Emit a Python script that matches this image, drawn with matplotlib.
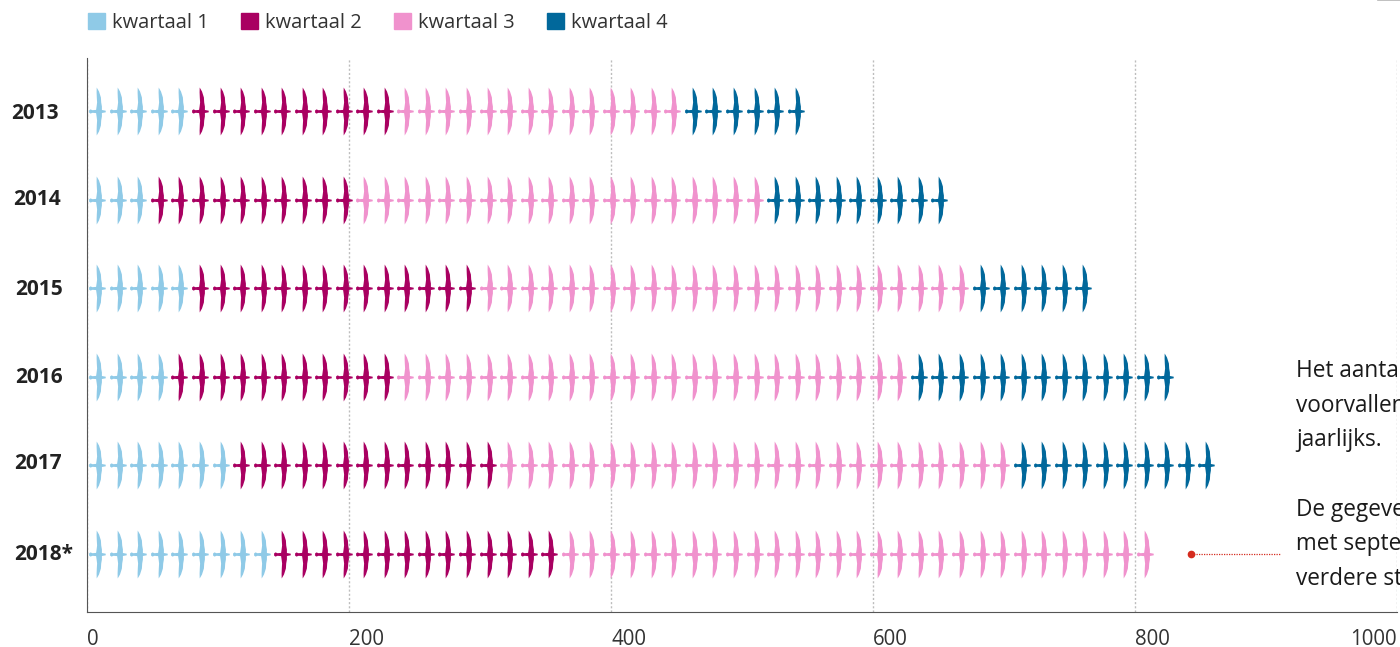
import numpy as np
import matplotlib.pyplot as plt
from matplotlib.patches import Patch
from matplotlib.path import Path

plt.rcParams['font.family'] = ['Open Sans', 'DejaVu Sans']

years = ['2013', '2014', '2015', '2016', '2017', '2018*']
# number of birds per quarter, one row per year
kwartaal_1 = [5, 3, 5, 4, 7, 9]
kwartaal_2 = [10, 10, 14, 11, 13, 14]
kwartaal_3 = [14, 20, 24, 25, 25, 29]
kwartaal_4 = [6, 9, 6, 13, 10, 0]
quarter_names = ['kwartaal 1', 'kwartaal 2', 'kwartaal 3', 'kwartaal 4']
bird_value = 15.68  # one bird on the x axis

xticks = [0, 200, 400, 600, 800, 1000]
note_lines = ['Het aantal', 'voorvallen', 'jaarlijks.', 'De gegevens', 'met september', 'verdere st']

colors = ['#8FCAE7', '#A90061', '#F092CD', '#01689B']
W, H = 1400, 647

# bird outline, wing span up and down, head on the left
right_side = [(-0.8, 24), (1.5, 20), (3.4, 14), (3.7, 9), (4.4, 5), (4.4, 1.5), (8.2, 0.8)]
left_side = [(-1.4, 1.6), (-0.9, 5), (-0.4, 9), (-0.7, 14), (-0.9, 19)]
head = [(-5, 1.3), (-7, 2.1), (-8.4, 1.1)]
outline = (right_side
           + [(x, -y) for x, y in right_side[::-1]]
           + [(x, -y) for x, y in left_side[::-1]]
           + [(x, -y) for x, y in head]
           + head[::-1]
           + left_side)
bird = Path(outline + [outline[0]], closed=True)

fig = plt.figure(figsize=(W / 100, H / 100), dpi=100)
ax = fig.add_axes([87 / W, 1 - 612 / H, 1310 / W, 554 / H])

# draw the birds
counts = np.array([kwartaal_1, kwartaal_2, kwartaal_3, kwartaal_4])
s = (48 * 0.72) ** 2
for row in range(len(years)):
    start = 0
    for q in range(4):
        n = counts[q, row]
        xs = bird_value * (start + np.arange(n) + 0.5)
        ax.scatter(xs, np.full(n, row), marker=bird, s=s, color=colors[q], linewidths=0, zorder=3)
        start += n

ax.set_xlim(0, 1000)
ax.set_ylim(5.655, -0.598)

ax.spines['top'].set_visible(False)
ax.spines['right'].set_visible(False)
ax.spines['left'].set_color('#555555')
ax.spines['bottom'].set_color('#555555')
ax.xaxis.grid(True, color='#bdbdbd', linestyle=(0, (1.5, 1.5)), linewidth=1)
ax.set_axisbelow(True)

ax.set_xticks(xticks)
ax.set_xticklabels(xticks, fontsize=14.8, color='#333333')
ax.tick_params(axis='x', length=0, pad=12)
for lab in ax.get_xticklabels():
    lab.set_ha('left')
ax.get_xticklabels()[-1].set_ha('right')

# year labels do not line up exactly in the original
ax.set_yticks([])
year_x = [11, 13, 15, 15, 14, 14]
year_dy = [-3, 0, -1, -1, 2, -1]
for i, y in enumerate(years):
    ax.annotate(y, xy=(year_x[i], i), xycoords=('figure pixels', 'data'),
                xytext=(0, year_dy[i]), textcoords='offset pixels',
                va='center', ha='left', fontsize=15, fontweight='bold', color='#222222',
                annotation_clip=False)

# note marker
ax.plot([843, 911], [5, 5], color='#D52B1E', linewidth=0.9, linestyle=(0, (1, 1)), clip_on=False)
ax.plot([843], [5], 'o', color='#D52B1E', markersize=4.5, clip_on=False)

note_y = [377, 411.5, 446, 516, 550.5, 585]
for txt, y in zip(note_lines, note_y):
    fig.text(1296 / W, 1 - y / H, txt, fontsize=16.3, color='#1a1a1a', va='baseline', ha='left')

handles = [Patch(color=c, label=n) for c, n in zip(colors, quarter_names)]
fig.legend(handles=handles, loc='center left', bbox_to_anchor=(88 / W, 1 - 23 / H), ncols=4,
           frameon=False, fontsize=14.4, labelcolor='#333333', borderpad=0, borderaxespad=0,
           handlelength=0.85, handleheight=0.85, handletextpad=0.35, columnspacing=1.62)

# bit of a rule at the top right corner
fig.add_artist(plt.Line2D([1378 / W, 1 + 0.001], [1, 1], color='#b5b5b5', linewidth=1.2))

fig.savefig('out.png', dpi=100)
